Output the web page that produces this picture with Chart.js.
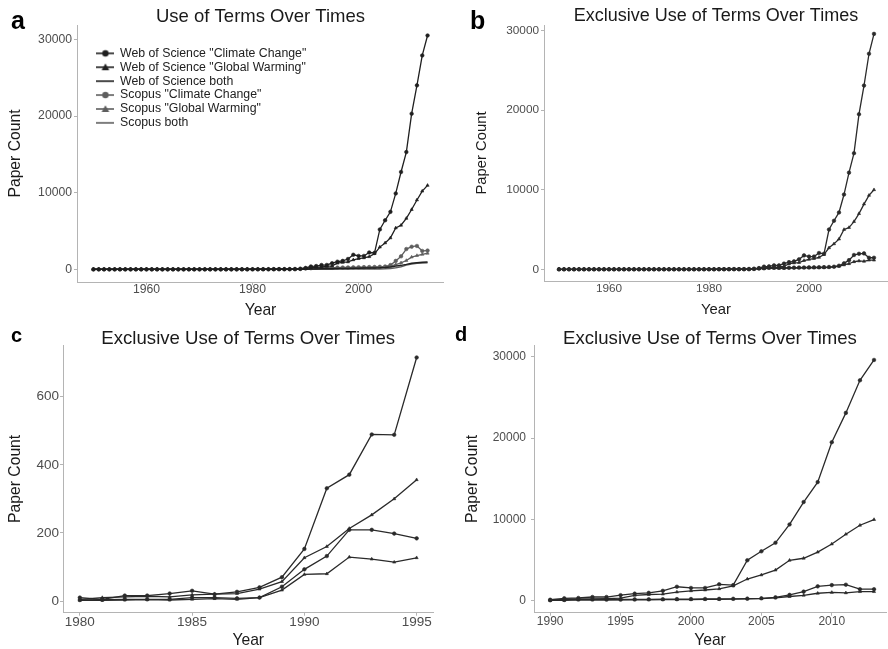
<!DOCTYPE html>
<html>
<head>
<meta charset="utf-8">
<script src="https://cdn.jsdelivr.net/npm/chart.js@4.4.0/dist/chart.umd.min.js"></script>
<style>
  body { margin: 0; background: #fff; width: 888px; height: 649px; position: relative; overflow: hidden;
         font-family: "Liberation Sans", Arial, sans-serif; }
  .panel { position: absolute; }
  .tag { position: absolute; font-weight: bold; line-height: 1; color: #000; }
</style>
</head>
<body>
<div class="panel" style="left:0;top:0;width:444px;height:320px"><canvas id="chartA" width="444" height="320"></canvas></div>
<div class="panel" style="left:444px;top:0;width:444px;height:320px"><canvas id="chartB" width="444" height="320"></canvas></div>
<div class="panel" style="left:0;top:320px;width:444px;height:329px"><canvas id="chartC" width="444" height="329"></canvas></div>
<div class="panel" style="left:444px;top:320px;width:444px;height:329px"><canvas id="chartD" width="444" height="329"></canvas></div>
<div class="tag" style="left:11px;top:8px;font-size:25px">a</div>
<div class="tag" style="left:470px;top:8px;font-size:25px">b</div>
<div class="tag" style="left:11px;top:325px;font-size:20px">c</div>
<div class="tag" style="left:455px;top:324px;font-size:20px">d</div>
<script>
// ---- data: one value per year, 1950 .. 2013 ----
const firstYear = 1950;
const lastYear = 2013;

// total use of each term (panel a)
const wosClimateChange = [
  0, 0, 0, 0, 0, 0, 0, 0, 0, 0,
  0, 0, 0, 0, 0, 0, 0, 0, 0, 0,
  0, 0, 1, 1, 1, 2, 2, 3, 4, 5,
  12, 8, 18, 18, 25, 33, 24, 32, 46, 80,
  180, 380, 430, 560, 570, 800, 1000, 1100, 1350, 1900,
  1750, 1750, 2200, 2150, 5200, 6400, 7500, 9900, 12700, 15300,
  20300, 24000, 27900, 30500
];
const wosGlobalWarming = [
  0, 0, 0, 0, 0, 0, 0, 0, 0, 0,
  0, 0, 0, 0, 0, 0, 0, 0, 0, 0,
  0, 0, 0, 0, 0, 1, 1, 1, 2, 3,
  6, 12, 14, 16, 14, 21, 23, 25, 40, 66,
  150, 210, 270, 320, 380, 450, 800, 900, 970, 1240,
  1400, 1500, 1650, 2050, 2900, 3450, 4100, 5400, 5750, 6650,
  7800, 9050, 10200, 10950
];
const wosBoth = [
  0, 0, 0, 0, 0, 0, 0, 0, 0, 0,
  0, 0, 0, 0, 0, 0, 0, 0, 0, 0,
  0, 0, 0, 0, 0, 0, 0, 0, 0, 0,
  1, 1, 2, 2, 3, 3, 4, 4, 6, 10,
  25, 45, 55, 65, 80, 90, 100, 110, 120, 140,
  150, 160, 170, 190, 210, 250, 320, 420, 520, 650,
  800, 870, 920, 950
];
const scopusClimateChange = [
  0, 0, 0, 0, 0, 0, 0, 0, 0, 0,
  0, 0, 0, 0, 0, 0, 0, 0, 0, 0,
  0, 0, 0, 1, 1, 1, 2, 2, 3, 3,
  4, 5, 6, 6, 6, 12, 12, 10, 12, 48,
  105, 150, 230, 230, 220, 210, 230, 240, 250, 260,
  275, 285, 300, 310, 335, 380, 560, 1100, 1700, 2650,
  2950, 3050, 2400, 2450
];
const scopusGlobalWarming = [
  0, 0, 0, 0, 0, 0, 0, 0, 0, 0,
  0, 0, 0, 0, 0, 0, 0, 0, 0, 0,
  0, 0, 0, 0, 0, 0, 1, 1, 1, 2,
  3, 3, 4, 5, 4, 6, 8, 6, 12, 36,
  88, 92, 145, 140, 130, 145, 160, 170, 180, 190,
  200, 210, 225, 245, 280, 330, 420, 620, 850, 1150,
  1600, 1800, 1950, 2100
];
const scopusBoth = [
  0, 0, 0, 0, 0, 0, 0, 0, 0, 0,
  0, 0, 0, 0, 0, 0, 0, 0, 0, 0,
  0, 0, 0, 0, 0, 0, 0, 0, 0, 0,
  0, 0, 0, 0, 0, 1, 1, 1, 2, 4,
  10, 15, 18, 20, 22, 25, 30, 32, 35, 38,
  40, 45, 50, 55, 60, 70, 110, 200, 350, 550,
  700, 800, 830, 850
];

// exclusive use of each term (panels b, c, d)
const wosClimateChangeOnly = [
  0, 0, 0, 0, 0, 0, 0, 0, 0, 0,
  0, 0, 0, 0, 0, 0, 0, 0, 0, 0,
  0, 0, 1, 1, 1, 2, 2, 3, 4, 5,
  10, 5, 16, 16, 22, 30, 20, 27, 40, 70,
  153, 331, 371, 489, 488, 715, 900, 1000, 1250, 1750,
  1600, 1600, 2050, 1950, 5000, 6100, 7150, 9400, 12150, 14600,
  19500, 23100, 27100, 29600
];
const wosGlobalWarmingOnly = [
  0, 0, 0, 0, 0, 0, 0, 0, 0, 0,
  0, 0, 0, 0, 0, 0, 0, 0, 0, 0,
  0, 0, 0, 0, 0, 1, 1, 1, 2, 3,
  5, 10, 12, 14, 12, 18, 20, 22, 35, 57,
  127, 160, 213, 253, 300, 356, 700, 800, 850, 1100,
  1250, 1350, 1500, 1850, 2700, 3200, 3800, 5000, 5250, 6000,
  7000, 8200, 9300, 10000
];
const scopusClimateChangeOnly = [
  0, 0, 0, 0, 0, 0, 0, 0, 0, 0,
  0, 0, 0, 0, 0, 0, 0, 0, 0, 0,
  0, 0, 0, 1, 1, 1, 2, 2, 3, 3,
  3, 4, 5, 5, 5, 10, 10, 8, 10, 42,
  93, 132, 209, 209, 198, 184, 200, 210, 220, 230,
  240, 250, 260, 270, 290, 330, 450, 750, 1150, 1800,
  1950, 2000, 1450, 1450
];
const scopusGlobalWarmingOnly = [
  0, 0, 0, 0, 0, 0, 0, 0, 0, 0,
  0, 0, 0, 0, 0, 0, 0, 0, 0, 0,
  0, 0, 0, 0, 0, 0, 1, 1, 1, 2,
  2, 2, 3, 4, 3, 5, 7, 5, 10, 32,
  78, 80, 129, 123, 114, 127, 140, 150, 160, 170,
  180, 190, 200, 220, 250, 300, 380, 550, 700, 950,
  1050, 1000, 1150, 1150
];

// tick labels
const yearTicksWide = [1960, 1980, 2000];
const yearTicksC = [1980, 1985, 1990, 1995];
const yearTicksD = [1990, 1995, 2000, 2005, 2010];
const countTicksBig = [0, 10000, 20000, 30000];
const countTicksSmall = [0, 200, 400, 600];

const FONT = "'Liberation Sans', Arial, sans-serif";
const WOS = '#1f1f1f';
const SCOPUS = '#5e5e5e';
const EXCL = '#2a2a2a';
const AXIS = '#b4b4b4';

Chart.defaults.font.family = FONT;

function series(label, values, fromYear, color, shape, width) {
    return {
        label: label,
        data: values.map((v, i) => ({ x: fromYear + i, y: v })),
        borderColor: color,
        backgroundColor: color,
        borderWidth: width || 1.3,
        pointStyle: shape || 'circle',
        pointRadius: shape ? 1.8 : 0,
        pointBorderWidth: 0.6,
        pointBorderColor: color,
        tension: 0,
        fill: false,
        glyph: shape || 'line'
    };
}

// small line+marker picture used as the legend key
function legendGlyph(color, shape) {
    const c = document.createElement('canvas');
    c.width = 18; c.height = 10;
    const g = c.getContext('2d');
    g.strokeStyle = color; g.fillStyle = color; g.lineWidth = 1.6;
    g.beginPath(); g.moveTo(0, 5); g.lineTo(18, 5); g.stroke();
    if (shape === 'circle') {
        g.beginPath(); g.arc(9, 5, 3.2, 0, Math.PI * 2); g.fill();
    } else if (shape === 'triangle') {
        g.beginPath(); g.moveTo(9, 1.2); g.lineTo(12.8, 8); g.lineTo(5.2, 8); g.closePath(); g.fill();
    }
    return c;
}

// put the legend inside the plot, top left, like the original
const legendInside = {
    id: 'legendInside',
    afterLayout(chart) {
        if (chart.legend) {
            chart.legend.left = 95.3;
            chart.legend.top = 45.6;
        }
    }
};

function makePanel(id, p) {
    return new Chart(document.getElementById(id), {
        type: 'line',
        data: { datasets: p.datasets },
        plugins: p.legend ? [legendInside] : [],
        options: {
            responsive: false,
            animation: false,
            devicePixelRatio: 1,
            layout: { autoPadding: false, padding: { left: 0, top: 0, right: p.padRight, bottom: 0 } },
            plugins: {
                tooltip: { enabled: false },
                title: {
                    display: true,
                    text: p.title,
                    fullSize: false,
                    color: '#1a1a1a',
                    font: { size: p.titleSize, weight: 'normal', lineHeight: 1 },
                    padding: { top: p.titleTop, bottom: 25 - p.titleSize - p.titleTop }
                },
                legend: {
                    display: !!p.legend,
                    position: 'chartArea',
                    align: 'start',
                    labels: {
                        usePointStyle: true,
                        pointStyleWidth: 17,
                        color: '#222',
                        font: { size: 12.3 },
                        padding: 1.6,
                        generateLabels: (chart) => chart.data.datasets.map((ds, i) => ({
                            text: ds.label,
                            pointStyle: legendGlyph(ds.borderColor, ds.glyph),
                            fillStyle: ds.borderColor,
                            strokeStyle: ds.borderColor,
                            lineWidth: 0,
                            hidden: false,
                            fontColor: '#222',
                            datasetIndex: i
                        }))
                    }
                }
            },
            scales: {
                x: {
                    type: 'linear',
                    min: p.xMin,
                    max: p.xMax,
                    afterBuildTicks: (s) => { s.ticks = p.xTicks.map((v) => ({ value: v })); },
                    afterFit: (s) => { s.height = p.bottom; s.paddingLeft = 0; s.paddingRight = 0; },
                    ticks: {
                        callback: (v) => String(v),
                        color: '#4d4d4d',
                        font: { size: p.tickSize, lineHeight: 1 },
                        padding: p.xTickPad,
                        maxRotation: 0,
                        autoSkip: false
                    },
                    grid: { display: true, drawOnChartArea: false, drawTicks: true, tickLength: 3, color: AXIS },
                    border: { display: true, color: AXIS, width: 1 },
                    title: {
                        display: true,
                        text: 'Year',
                        color: '#1a1a1a',
                        font: { size: p.axisTitleSize, lineHeight: 1 },
                        padding: { top: 0, bottom: p.xTitlePad }
                    }
                },
                y: {
                    type: 'linear',
                    min: p.yMin,
                    max: p.yMax,
                    afterBuildTicks: (s) => { s.ticks = p.yTicks.map((v) => ({ value: v })); },
                    afterFit: (s) => { s.width = p.left; s.paddingTop = 0; s.paddingBottom = 0; },
                    ticks: {
                        callback: (v) => String(v),
                        color: '#4d4d4d',
                        font: { size: p.tickSize, lineHeight: 1 },
                        padding: p.yTickPad
                    },
                    grid: { display: true, drawOnChartArea: false, drawTicks: true, tickLength: 3, color: AXIS },
                    border: { display: true, color: AXIS, width: 1 },
                    title: {
                        display: true,
                        text: 'Paper Count',
                        color: '#1a1a1a',
                        font: { size: p.axisTitleSize, lineHeight: 1 },
                        padding: { top: p.yTitlePad, bottom: 0 }
                    }
                }
            }
        }
    });
}

// panel a: all six series
makePanel('chartA', {
    title: 'Use of Terms Over Times',
    legend: true,
    datasets: [
        series('Web of Science "Climate Change"', wosClimateChange, firstYear, WOS, 'circle'),
        series('Web of Science "Global Warming"', wosGlobalWarming, firstYear, WOS, 'triangle'),
        series('Web of Science both', wosBoth, firstYear, WOS, null, 1.5),
        series('Scopus "Climate Change"', scopusClimateChange, firstYear, SCOPUS, 'circle'),
        series('Scopus "Global Warming"', scopusGlobalWarming, firstYear, SCOPUS, 'triangle'),
        series('Scopus both', scopusBoth, firstYear, SCOPUS, null, 1.5)
    ],
    xMin: 1946.9, xMax: 2016.1, xTicks: yearTicksWide,
    yMin: -1650, yMax: 31870, yTicks: countTicksBig,
    left: 77, bottom: 38, padRight: 0,
    titleSize: 18.5, titleTop: 7.5,
    tickSize: 12.2, axisTitleSize: 15.7,
    xTickPad: -1.4, yTickPad: 2, xTitlePad: 1.8, yTitlePad: 8
});

function exclusiveSets(from, to) {
    const i0 = from - firstYear, i1 = to - firstYear + 1;
    return [
        series('Web of Science "Climate Change"', wosClimateChangeOnly.slice(i0, i1), from, EXCL, 'circle'),
        series('Web of Science "Global Warming"', wosGlobalWarmingOnly.slice(i0, i1), from, EXCL, 'triangle'),
        series('Scopus "Climate Change"', scopusClimateChangeOnly.slice(i0, i1), from, EXCL, 'circle'),
        series('Scopus "Global Warming"', scopusGlobalWarmingOnly.slice(i0, i1), from, EXCL, 'triangle')
    ];
}

// panel b: exclusive use, whole range
makePanel('chartB', {
    title: 'Exclusive Use of Terms Over Times',
    datasets: exclusiveSets(firstYear, lastYear),
    xMin: 1947, xMax: 2015.8, xTicks: yearTicksWide,
    yMin: -1471, yMax: 30717, yTicks: countTicksBig,
    left: 100, bottom: 39, padRight: 0,
    titleSize: 18, titleTop: 7,
    tickSize: 11.8, axisTitleSize: 14.8,
    xTickPad: -0.8, yTickPad: 2, xTitlePad: 2.2, yTitlePad: 31
});

// panel c: exclusive use, 1980-1995
makePanel('chartC', {
    title: 'Exclusive Use of Terms Over Times',
    datasets: exclusiveSets(1980, 1995),
    xMin: 1979.25, xMax: 1995.75, xTicks: yearTicksC,
    yMin: -34.3, yMax: 751.7, yTicks: countTicksSmall,
    left: 63, bottom: 36.3, padRight: 10.5,
    titleSize: 18.6, titleTop: 10,
    tickSize: 13.5, axisTitleSize: 15.7,
    xTickPad: -0.5, yTickPad: 1, xTitlePad: 0.2, yTitlePad: 8
});

// panel d: exclusive use, 1990-2013
makePanel('chartD', {
    title: 'Exclusive Use of Terms Over Times',
    datasets: exclusiveSets(1990, lastYear),
    xMin: 1988.85, xMax: 2013.85, xTicks: yearTicksD,
    yMin: -1437, yMax: 31437, yTicks: countTicksBig,
    left: 90, bottom: 36.3, padRight: 2,
    titleSize: 18.6, titleTop: 9.5,
    tickSize: 12, axisTitleSize: 15.7,
    xTickPad: -0.3, yTickPad: 5, xTitlePad: 0.2, yTitlePad: 21
});
</script>
</body>
</html>
